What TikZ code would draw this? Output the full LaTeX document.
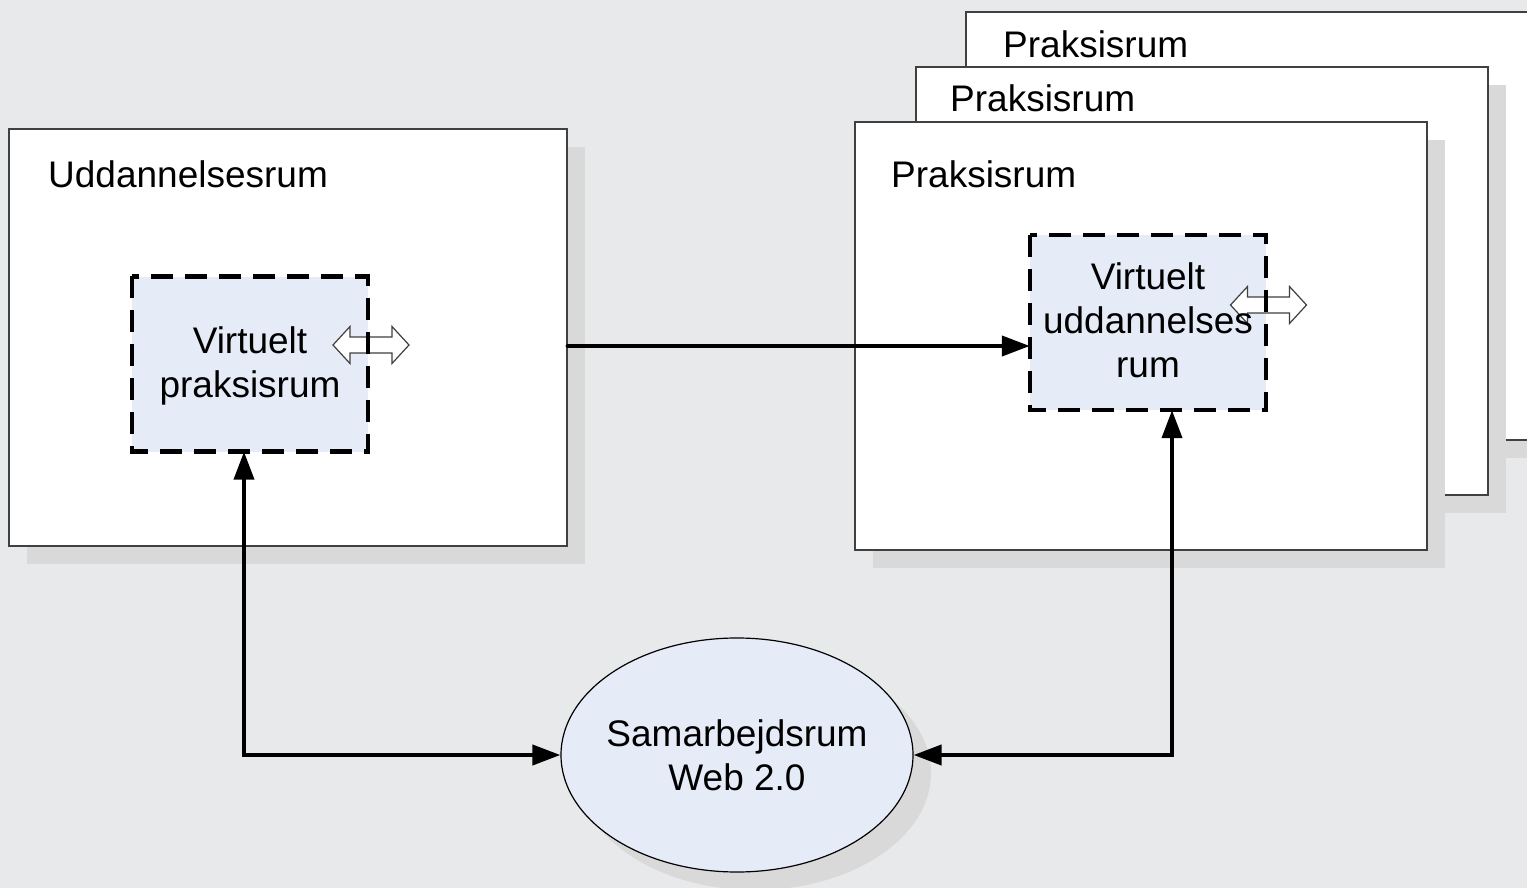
\documentclass[tikz,border=0pt]{standalone}
\usepackage{fontspec}
\setmainfont{Liberation Sans}
\usetikzlibrary{arrows.meta,shapes.geometric,shadows}

\definecolor{bgcol}{HTML}{E8E9EB}
\definecolor{shadowcol}{HTML}{D9D9D9}
\definecolor{vfill}{HTML}{E6ECF7}
\definecolor{edgecol}{HTML}{404040}
\newcommand\roomfont{\fontsize{37}{44}\selectfont}

\tikzset{
  flatshadow/.style={drop shadow={shadow xshift=18pt,shadow yshift=-18pt,fill=shadowcol,opacity=1}},
  room/.style={draw=edgecol,line width=1.2pt,fill=white,inner sep=0pt,
    minimum width=572pt,minimum height=428pt,flatshadow},
  roomtitle/.style={anchor=base west,inner sep=0pt,font=\roomfont},
  vbox/.style={fill=vfill,inner sep=0pt,minimum width=236pt,minimum height=175pt},
  vborder/.style={draw=black,line width=4.5pt,dash pattern=on 22pt off 12pt},
  vtext/.style={align=center,inner sep=0pt,font=\roomfont},
  swapshape/.style={fill=white,draw=edgecol,line width=1.2pt,line join=miter},
  conn/.style={line width=4pt,>={Triangle[length=28pt,width=20pt]}},
}

\begin{document}
\begin{tikzpicture}[x=1pt,y=-1pt]
  % canvas
  \fill[bgcol] (0,0) rectangle (1527,888);
  \useasboundingbox (0,0) rectangle (1527,888);
  \clip (0,0) rectangle (1527,888);

  % education room
  \node[room,minimum width=558pt,minimum height=417pt] (udd) at (288,337.5) {};
  \node[roomtitle] (uddtitle) at (48,188) {Uddannelsesrum};

  % stack of practice rooms, back to front
  \node[room] (prak3) at (1252,226) {};
  \node[roomtitle] (prak3title) at (1003,58) {Praksisrum};
  \node[room] (prak2) at (1202,281) {};
  \node[roomtitle] (prak2title) at (950,112) {Praksisrum};
  \node[room] (prak1) at (1141,336) {};
  \node[roomtitle] (prak1title) at (891,188) {Praksisrum};

  % virtual practice room
  \node[vbox] (vp) at (250,364) {};
  \coordinate (vpswap) at (371,345);
  \draw[swapshape] (vpswap) ++(-38,0) -- ++(17,-18.5) -- ++(0,10.5) -- ++(42,0)
    -- ++(0,-10.5) -- ++(17,18.5) -- ++(-17,18.5) -- ++(0,-10.5) -- ++(-42,0)
    -- ++(0,10.5) -- cycle;
  \draw[vborder] (vp.north west) rectangle (vp.south east);
  \node[vtext] (vptext) at ([yshift=-2pt]vp) {Virtuelt\\praksisrum};

  % virtual education room
  \node[vbox] (vu) at (1148,322.5) {};
  \coordinate (vuswap) at (1268.5,305);
  \draw[swapshape] (vuswap) ++(-38,0) -- ++(17,-18.5) -- ++(0,10.5) -- ++(42,0)
    -- ++(0,-10.5) -- ++(17,18.5) -- ++(-17,18.5) -- ++(0,-10.5) -- ++(-42,0)
    -- ++(0,10.5) -- cycle;
  \draw[vborder] (vu.north west) rectangle (vu.south east);
  \node[vtext] (vutext) at ([yshift=2pt]vu) {Virtuelt\\uddannelses\\rum};

  % collaboration space
  \node[ellipse,draw=black,line width=1.2pt,fill=vfill,inner sep=0pt,
    minimum width=352pt,minimum height=234pt,flatshadow] (sam) at (737,755) {};
  \node[vtext] (samtext) at (sam) {Samarbejdsrum\\Web 2.0};

  % connectors
  \draw[conn,->,line cap=round] (udd.east |- 0,346) -- (vu.west |- 0,346);
  \draw[conn,<->] ([xshift=-6pt]vp.south) |- (sam.west);
  \draw[conn,<->] ([xshift=24pt]vu.south) |- (sam.east);
\end{tikzpicture}
\end{document}
